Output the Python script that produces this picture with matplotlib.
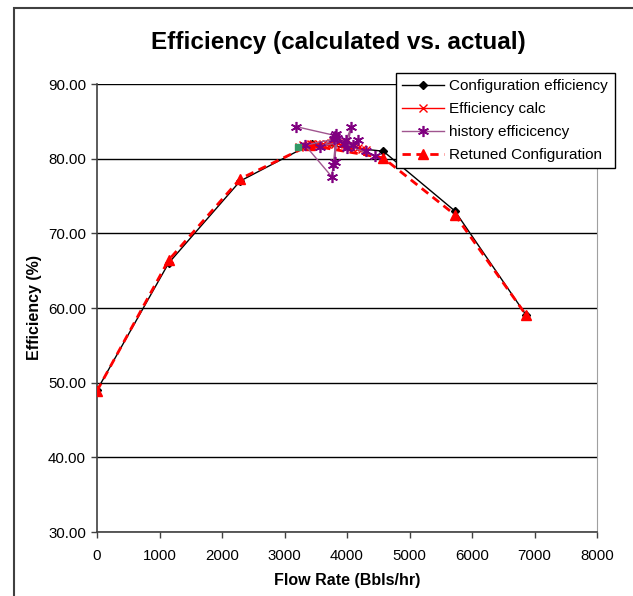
import matplotlib
matplotlib.use('Agg')
import matplotlib.pyplot as plt
from matplotlib.patches import Rectangle

plt.rcParams['font.family'] = ['Liberation Sans', 'DejaVu Sans']

# Configuration efficiency (black diamonds)
conf_x = [0, 1145, 2290, 3435, 4580, 5725, 6870]
conf_y = [49.0, 66.0, 77.0, 82.0, 81.0, 73.0, 59.0]

# Efficiency calc (red x)
calc_x = [3230, 3300, 3360, 3420, 3490, 3550, 3620, 3680, 3740, 3780, 3810,
          3850, 3900, 3960, 4010, 4060, 4120, 4180, 4240, 4300]
calc_y = [81.6, 81.8, 81.7, 81.9, 81.8, 81.9, 82.0, 81.9, 82.1, 82.2, 81.9,
          82.1, 81.8, 81.9, 81.7, 81.6, 81.5, 81.4, 81.3, 81.2]

# history efficicency (purple asterisks)
hist_x = [3180, 3810, 3790, 3330, 3755, 3780, 3830, 3800, 3840, 3570, 3990,
          4070, 4000, 4180, 4100, 3950, 4450, 4300]
hist_y = [84.3, 83.1, 82.6, 81.8, 77.6, 79.1, 83.3, 79.6, 82.8, 81.6, 82.5,
          84.3, 81.4, 82.5, 81.8, 82.0, 80.3, 81.0]

# Retuned Configuration (red dashed, triangles)
ret_x = [0, 1145, 2290, 3400, 4580, 5725, 6870]
ret_y = [48.9, 66.4, 77.3, 81.8, 80.1, 72.5, 59.0]

# starting point (green square, no legend entry)
start_x = [3220]
start_y = [81.5]

W, H = 633, 596
fig = plt.figure(figsize=(W / 100, H / 100), dpi=100)

# outer chart frame
fig.patches.append(Rectangle((14 / W, -0.1), 1.2, 1.1 - 8 / H, transform=fig.transFigure,
                             fill=False, edgecolor='#404040', linewidth=1.5))

# plot area in pixels
ax = fig.add_axes([97 / W, (H - 532) / H, 500 / W, 448 / H])

ax.plot(conf_x, conf_y, color='black', linewidth=1, marker='D', markersize=4.5,
        label='Configuration efficiency', zorder=3)
ax.plot(calc_x, calc_y, color='red', linewidth=1, marker='x', markersize=5.5,
        markeredgewidth=1, label='Efficiency calc', zorder=4)
ax.plot(hist_x, hist_y, color='#a0558f', linewidth=1, marker=(6, 2, 0), markersize=8,
        markeredgecolor='#800080', markerfacecolor='#800080', markeredgewidth=1.2,
        label='history efficicency', zorder=5)
ax.plot(ret_x, ret_y, color='red', linewidth=2, linestyle=(0, (3, 2)), marker='^',
        markersize=6.5, label='Retuned Configuration', zorder=4)
ax.plot(start_x, start_y, linestyle='none', marker='s', markersize=5,
        color='#339966', zorder=6)

ax.set_xlim(0, 8000)
ax.set_ylim(30, 90)
ax.set_xticks(range(0, 8001, 1000))
ax.set_yticks(range(30, 91, 10))
ax.set_yticklabels(['{:.2f}'.format(v) for v in range(30, 91, 10)])
ax.grid(axis='y', color='black', linewidth=1)
ax.set_axisbelow(True)

for s in ['left', 'bottom']:
    ax.spines[s].set_color('#404040')
    ax.spines[s].set_linewidth(1.2)
ax.spines['top'].set_visible(False)
ax.spines['right'].set_color('#a0a0a0')
ax.tick_params(direction='out', length=4, width=1, colors='#404040',
               labelcolor='black', labelsize=10.8)
ax.tick_params(axis='y', pad=4)
ax.tick_params(axis='x', pad=8.5)

ax.set_xlabel('Flow Rate (Bbls/hr)', fontsize=11.5, fontweight='bold', labelpad=7)
ax.set_ylabel('Efficiency (%)', fontsize=11.5, fontweight='bold', labelpad=4)
fig.text(338 / W, 1 - 42 / H, 'Efficiency (calculated vs. actual)', fontsize=17.5,
         fontweight='bold', ha='center', va='center')

leg = ax.legend(loc='upper left', bbox_to_anchor=(396 / W, 1 - 73 / H),
                bbox_transform=fig.transFigure, fontsize=11, frameon=True,
                fancybox=False, edgecolor='black', framealpha=1,
                handlelength=2.75, borderpad=0.42, labelspacing=0.58,
                handletextpad=0.33, borderaxespad=0)
leg.get_frame().set_linewidth(1)
leg.set_zorder(10)

fig.savefig('out.png', dpi=100)
